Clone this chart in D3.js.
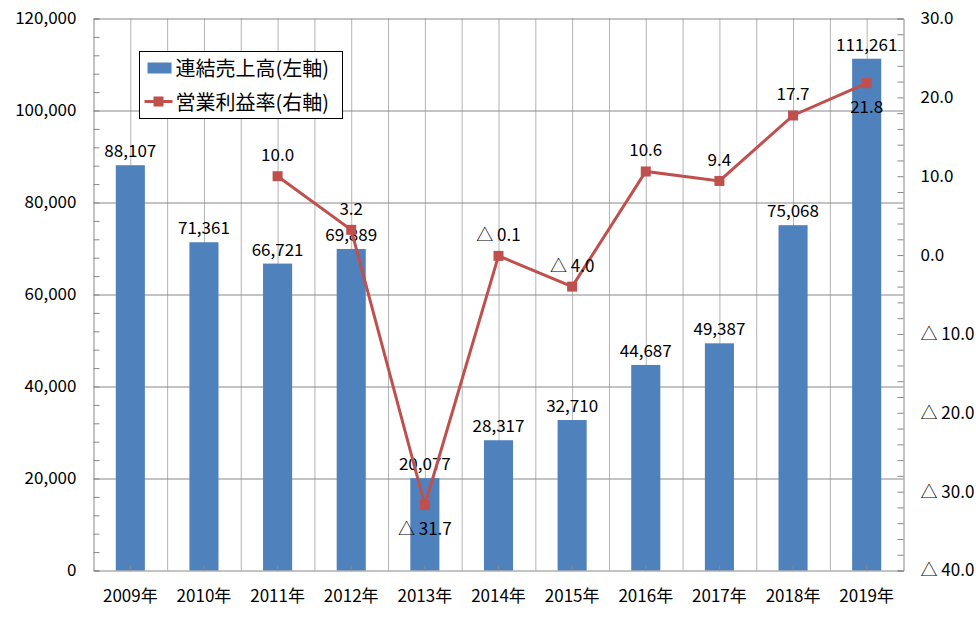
<!DOCTYPE html>
<html>
<head>
<meta charset="utf-8">
<script src="https://cdn.jsdelivr.net/npm/d3@7"></script>
<style>
  body { margin: 0; background: #fff; }
  text { font-family: "Noto Sans CJK JP", "Noto Sans", sans-serif; fill: #000; }
</style>
</head>
<body>
<svg id="chart" width="976" height="638"></svg>
<script>
// data
const years = ["2009年", "2010年", "2011年", "2012年", "2013年", "2014年", "2015年", "2016年", "2017年", "2018年", "2019年"];
const sales = [88107, 71361, 66721, 69889, 20077, 28317, 32710, 44687, 49387, 75068, 111261];
const margins = [null, null, 10.0, 3.2, -31.7, -0.1, -4.0, 10.6, 9.4, 17.7, 21.8];
const leftTicks = [0, 20000, 40000, 60000, 80000, 100000, 120000];
const rightTicks = [-40, -30, -20, -10, 0, 10, 20, 30];
const legendNames = ["連結売上高(左軸)", "営業利益率(右軸)"];
// which line labels go under the marker
const labelsBelow = ["2013年", "2019年"];

const barColor = "#4f81bd", lineColor = "#c0504d";
const plotL = 93.5, plotR = 903.5, plotT = 18.5, plotB = 570.5;

const svg = d3.select("#chart");

const x = d3.scaleBand().domain(years).range([plotL, plotR]).padding(0);
const yL = d3.scaleLinear().domain([0, 120000]).range([plotB, plotT]);
const yR = d3.scaleLinear().domain([-40, 30]).range([plotB, plotT]);
// half category steps for the vertical grid
const xHalf = d3.scaleLinear().domain([0, years.length * 2]).range([plotL, plotR]);

const fmtR = d => d < 0 ? "△ " + d3.format(".1f")(-d) : d3.format(".1f")(d);

// vertical gridlines
svg.append("g")
  .attr("transform", `translate(0,${plotB})`)
  .call(d3.axisBottom(xHalf).tickValues(d3.range(1, years.length * 2)).tickSize(-(plotB - plotT)).tickFormat(""))
  .call(g => g.select(".domain").remove())
  .selectAll("line").attr("stroke", "#b4b4b4");

// horizontal gridlines
svg.append("g")
  .attr("transform", `translate(${plotL},0)`)
  .call(d3.axisLeft(yL).tickValues(leftTicks.slice(1)).tickSize(-(plotR - plotL)).tickFormat(""))
  .call(g => g.select(".domain").remove())
  .selectAll("line").attr("stroke", "#888");

// bars
const barW = x.bandwidth() * 0.395;
svg.append("g").selectAll("rect")
  .data(sales)
  .join("rect")
  .attr("x", (d, i) => x(years[i]) + (x.bandwidth() - barW) / 2)
  .attr("y", d => yL(d))
  .attr("width", barW)
  .attr("height", d => plotB - yL(d))
  .attr("fill", barColor);

// left axis: labels + minor ticks inside
svg.append("g")
  .attr("transform", `translate(${plotL},0)`)
  .call(d3.axisLeft(yL).tickValues(leftTicks).tickSize(0).tickPadding(17).tickFormat(d3.format(",")))
  .call(g => g.select(".domain").remove())
  .selectAll("text").style("font-size", "17px");
svg.append("g")
  .attr("transform", `translate(${plotL},0)`)
  .call(d3.axisRight(yL).tickValues(d3.range(0, 120001, 4000)).tickSize(6).tickFormat(""))
  .call(g => g.selectAll("path,line").attr("stroke", "#888"));

// right axis
svg.append("g")
  .attr("transform", `translate(${plotR},0)`)
  .call(d3.axisRight(yR).tickValues(rightTicks).tickSize(0).tickPadding(17).tickFormat(fmtR))
  .call(g => g.select(".domain").remove())
  .selectAll("text").style("font-size", "17px");
svg.append("g")
  .attr("transform", `translate(${plotR},0)`)
  .call(d3.axisLeft(yR).tickValues(d3.range(-40, 30.01, 2)).tickSize(6).tickFormat(""))
  .call(g => g.selectAll("path,line").attr("stroke", "#888"));

// bottom axis
svg.append("g")
  .attr("transform", `translate(0,${plotB})`)
  .call(d3.axisBottom(x).tickSize(0).tickPadding(19))
  .call(g => g.select(".domain").attr("stroke", "#888"))
  .selectAll("text").style("font-size", "17px");
svg.append("g")
  .attr("transform", `translate(0,${plotB})`)
  .call(d3.axisBottom(x).tickSize(-5).tickFormat(""))
  .call(g => g.select(".domain").remove())
  .selectAll("line").attr("stroke", "#888");

// bar labels
svg.append("g").selectAll("text")
  .data(sales)
  .join("text")
  .attr("x", (d, i) => x(years[i]) + x.bandwidth() / 2)
  .attr("y", d => yL(d) - 8)
  .attr("text-anchor", "middle")
  .style("font-size", "17px")
  .text(d => d3.format(",")(d));

// margin line
const pts = margins.map((v, i) => ({ year: years[i], v })).filter(d => d.v !== null);
const line = d3.line()
  .x(d => x(d.year) + x.bandwidth() / 2)
  .y(d => yR(d.v));

svg.append("path")
  .datum(pts)
  .attr("d", line)
  .attr("fill", "none")
  .attr("stroke", lineColor)
  .attr("stroke-width", 3);

svg.append("g").selectAll("rect")
  .data(pts)
  .join("rect")
  .attr("x", d => x(d.year) + x.bandwidth() / 2 - 5)
  .attr("y", d => yR(d.v) - 5)
  .attr("width", 10)
  .attr("height", 10)
  .attr("fill", lineColor);

svg.append("g").selectAll("text")
  .data(pts)
  .join("text")
  .attr("x", d => x(d.year) + x.bandwidth() / 2)
  .attr("y", d => labelsBelow.includes(d.year) ? yR(d.v) + 30 : yR(d.v) - 15)
  .attr("text-anchor", "middle")
  .style("font-size", "17px")
  .text(d => fmtR(d.v));

// legend
const lg = svg.append("g").attr("transform", "translate(139.5,51.5)");
lg.append("rect").attr("width", 203).attr("height", 67).attr("fill", "#fff").attr("stroke", "#000");
lg.append("rect").attr("x", 8).attr("y", 11).attr("width", 24).attr("height", 11).attr("fill", barColor);
lg.append("line").attr("x1", 5).attr("x2", 33).attr("y1", 50).attr("y2", 50).attr("stroke", lineColor).attr("stroke-width", 3);
lg.append("rect").attr("x", 14).attr("y", 45).attr("width", 10).attr("height", 10).attr("fill", lineColor);
lg.selectAll("text.name")
  .data(legendNames)
  .join("text")
  .attr("class", "name")
  .attr("x", 36)
  .attr("y", (d, i) => 17 + i * 34)
  .attr("dy", "0.35em")
  .style("font-size", "20px")
  .text(d => d);
</script>
</body>
</html>
